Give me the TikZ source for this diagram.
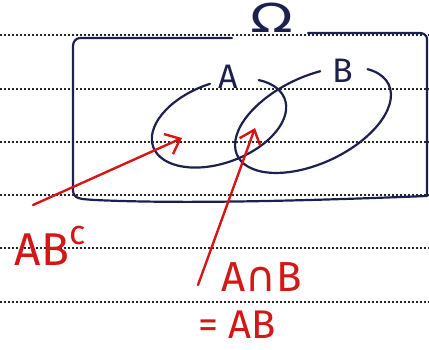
\documentclass[tikz,border=0pt]{standalone}
\usepackage{fontspec}
\setmainfont{Fira Sans}
\newfontfamily\symfont{DejaVu Sans}
\usetikzlibrary{arrows.meta,calc}
\definecolor{ink}{RGB}{28,32,78}
\definecolor{pen}{RGB}{212,22,22}
\tikzset{
  rule/.style={line width=1.9pt, dash pattern=on 1.5pt off 2.5pt, black!85},
  inkline/.style={line width=2.2pt, ink, line cap=round, line join=round},
  penline/.style={line width=2.4pt, pen, line cap=round, line join=round},
  penarrow/.style={penline, -{Straight Barb[length=13pt,width=22pt,line width=2.4pt]}},
  setlabel/.style={ink, font=\fontsize{34}{36}\selectfont, inner sep=0pt},
  redlabel/.style={pen, font=\fontsize{42}{44}\selectfont, inner sep=0pt},
}
\begin{document}
\begin{tikzpicture}[x=1pt,y=1pt]
\useasboundingbox (0,0) rectangle (429,349);
% ruled lines
\foreach \yy in {314,260,207,154,101,47} \draw[rule] (0,\yy) -- (429,\yy);
% sample space box
\coordinate (gapL) at (232,311);
\coordinate (gapR) at (308,316);
\draw[inkline] (gapL) -- (80,311) to[out=180,in=90] (73,303) -- (73,158)
  .. controls (74,150) and (80,150) .. (95,149)
  .. controls (180,145) and (300,148) .. (427,153) -- (427,310)
  to[out=90,in=0] (420,316) -- (gapR);
\node[setlabel, font=\fontsize{40}{42}\selectfont\symfont, xscale=1.4] (omega) at (272,331) {Ω};
% set A
\coordinate (cA) at (219,226);
\draw[inkline, rotate around={20:(cA)}] ($(cA)+(86:70 and 40)$) arc[start angle=86, end angle=402, x radius=70, y radius=40];
\node[setlabel] (labA) at (228,272) {A};
% set B
\coordinate (cB) at (313,229);
\draw[inkline, rotate around={25:(cB)}] ($(cB)+(71:83.6 and 43.5)$) arc[start angle=71, end angle=392, x radius=83.6, y radius=43.5];
\node[setlabel] (labB) at (343,278) {B};
% arrows and labels
\node[redlabel, font=\fontsize{46}{48}\selectfont] (abc) at (50,103) {AB\raisebox{0.45em}{\fontsize{34}{36}\selectfont c}};
\coordinate (t1) at (33,144);
\coordinate (h1) at (182,211);
\draw[penarrow] (t1) -- (h1);
\node[redlabel] (cap) at (262,72) {A{\symfont ∩}B};
\node[redlabel, font=\fontsize{40}{42}\selectfont] (eq) at (237,24) {= AB};
\coordinate (t2) at (198,64);
\coordinate (h2) at (255,221);
\draw[penarrow] (t2) -- (h2);
\end{tikzpicture}
\end{document}
